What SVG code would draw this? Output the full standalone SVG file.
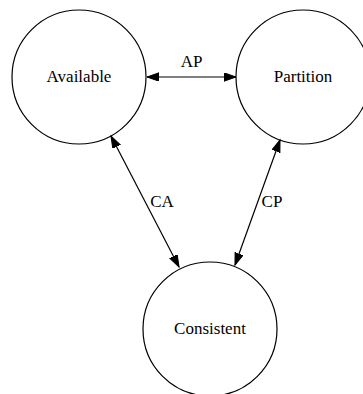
<svg xmlns="http://www.w3.org/2000/svg" width="363" height="394" viewBox="0 0 363 394">
  <style>
    .node circle { fill: #ffffff; stroke: #000000; stroke-width: 1.2; }
    .node text, .label { font-family: "Liberation Serif", "Times New Roman", serif; font-size: 17px; fill: #000000; text-anchor: middle; }
    .edge { stroke: #000000; stroke-width: 1.2; fill: none; marker-start: url(#arrow); marker-end: url(#arrow); }
  </style>
  <defs>
    <marker id="arrow" markerUnits="userSpaceOnUse" markerWidth="14" markerHeight="10" refX="12" refY="4.2" orient="auto-start-reverse">
      <path d="M0,0 L12,4.2 L0,8.4 z" fill="#000000" stroke="#000000" stroke-width="1"/>
    </marker>
  </defs>
  <rect width="363" height="394" fill="#ffffff"/>

  <g id="node-available" class="node">
    <circle cx="79" cy="77" r="67"/>
    <text x="79" y="82">Available</text>
  </g>
  <g id="node-partition" class="node">
    <circle cx="303" cy="77" r="67"/>
    <text x="303" y="82">Partition</text>
  </g>
  <g id="node-consistent" class="node">
    <circle cx="210" cy="329" r="67"/>
    <text x="210" y="334">Consistent</text>
  </g>

  <g id="connectors">
    <line class="edge" x1="147" y1="77" x2="236" y2="77"/>
    <text class="label" x="191.5" y="67">AP</text>
    <line class="edge" x1="111" y1="136" x2="179" y2="267"/>
    <text class="label" x="162" y="207">CA</text>
    <line class="edge" x1="280" y1="140" x2="235" y2="265"/>
    <text class="label" x="272" y="207">CP</text>
  </g>
</svg>
